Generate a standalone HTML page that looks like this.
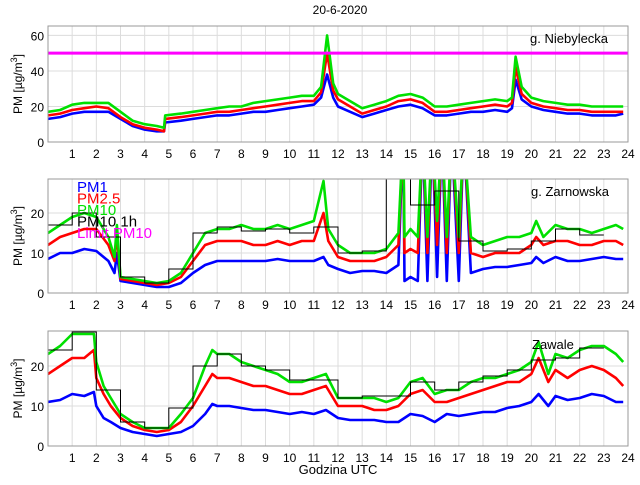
<!DOCTYPE html>
<html><head><meta charset="utf-8"><style>
body{margin:0;background:#fff;font-family:"Liberation Sans",sans-serif}
svg text{font-family:"Liberation Sans",sans-serif}
</style></head><body>
<svg id="c" width="640" height="480" xmlns="http://www.w3.org/2000/svg">
<text x="340" y="14" font-size="12" text-anchor="middle">20-6-2020</text>
<text x="338" y="474" font-size="13" text-anchor="middle">Godzina UTC</text>
</svg>
<script>
// Panel 1: g. Niebylecka
const t1=[0,0.5,1,1.5,2,2.5,3,3.5,4,4.5,4.8,4.85,5.5,6,6.5,7,7.5,8,8.5,9,9.5,10,10.5,11,11.3,11.55,11.8,12,12.5,13,13.5,14,14.5,15,15.5,16,16.5,17,17.5,18,18.5,19,19.2,19.35,19.6,20,20.5,21,21.5,22,22.5,23,23.5,23.8];
const pm10_1=[17,18,21,22,22,22,17,12,10,9,8,15,16,17,18,19,20,20,22,23,24,25,26,26,31,60,33,27,23,19,21,23,26,27,25,20,20,21,22,23,24,23,25,48,31,25,23,22,21,21,20,20,20,20];
const pm25_1=[15,16,18,19,20,19,14,10,8,7,6,13,14,15,16,17,17,18,19,20,21,22,23,23,28,50,29,24,20,16,18,20,23,24,22,17,17,18,19,20,21,20,22,42,27,22,20,19,18,18,17,17,17,17];
const pm1_1=[13,14,16,17,17,17,13,9,7,6,6,11,12,13,14,15,15,16,17,17,18,19,20,21,25,38,25,20,17,14,16,18,20,21,19,15,15,16,17,17,18,17,19,35,24,20,18,17,16,16,15,15,15,16];
// Panel 2: g. Zarnowska
const t2=[0,0.5,1,1.5,2,2.5,2.75,2.85,3,3.5,4,4.5,5,5.5,6,6.5,7,7.5,8,8.5,9,9.5,10,10.5,11,11.4,11.6,12,12.5,13,13.5,14,14.5,14.7,14.75,15,15.3,15.5,15.7,15.9,16.1,16.3,16.5,16.7,17,17.2,17.5,18,18.5,19,19.5,20,20.2,20.5,21,21.5,22,22.5,23,23.5,23.8];
const pm10_2=[15,17,19,20,19,14,9,17,4,3.5,3,2.5,3,5,10,15,16,16,17,16,16,17,16,17,18,28,16,12,10,10,10,11,15,40,14,16,14,40,14,40,18,40,14,40,14,40,14,12,13,14,14,15,18,14,17,16,16,15,16,17,16];
const pm25_2=[12,14,15,16,16,12,8,15,3.5,3,2.5,2,2.5,4,8,12,13,13,13,12,12,13,12,13,13,20,13,9,8,8,8,9,12,40,10,11,10,40,10,40,12,40,10,40,10,40,10,9,10,10,10,12,14,12,13,13,12,12,13,13,12];
const pm1_2=[8.5,10,10,11,10.5,8,5,10,3,2.5,2,1.5,1.5,2.5,5,7,8,8,8,8,8,8.5,8,8,8,9,7,6,5,5.5,5.5,5,7,40,3,4,3,40,3,40,4,40,3,40,3,40,5,6,6.5,6.5,7,7.5,9,7.5,9,8,8,8.5,9,8.5,8.5];
const hourly2=[17,20,14,4,2.5,6,15,16.5,15.5,16,15,16.5,10,10.5,50,22,25.5,13,10.5,11,13,16,14.5];
// Panel 3: Zawale
const t3=[0,0.5,1,1.5,1.9,2,2.3,2.6,3,3.5,4,4.5,5,5.5,6,6.5,6.8,7,7.5,8,8.5,9,9.5,10,10.5,11,11.5,12,12.5,13,13.5,14,14.5,15,15.5,16,16.5,17,17.5,18,18.5,19,19.5,20,20.3,20.7,21,21.5,22,22.5,23,23.5,23.8];
const pm10_3=[23,25,28,28,28,21,15,12,8,6,4.5,4.5,4.5,8,12,20,24,23,23,21,20,19,18,16,16,17,18,12,12,12,12,11,12,16,17,13,14,14,16,17,17,18,19,21,26,18,23,22,24,25,25,23,21];
const pm25_3=[18,20,22,22,24,17,13,10,7,5,4,3.5,4,6,10,15,18,17,17,16,15,15,14,13,13,14,15,10,10,10,9,9,10,13,14,11,11,12,13,14,15,16,16,18,22,16,19,17,19,20,19,17,15];
const pm1_3=[11,11.5,13,12.5,13.5,10,7,6,4.5,3.5,3,2.5,3,3.5,5,8,10.5,10,10,9.5,9,9,8.5,8,8.5,8,9,7,6.5,6.5,6.5,6,6,8,7.5,6,8,7.5,8,8.5,8.5,9.5,10,11,13,10,12.5,11.5,12,13,12.5,11,11];
const hourly3=[24,28.5,14,6,4.5,9.5,20,23,20,19,16.5,16.5,12,12.5,12.5,16,14,16,17.5,19,21.5,22,24.5];
const limit=[50];
const xTicks=[1,2,3,4,5,6,7,8,9,10,11,12,13,14,15,16,17,18,19,20,21,22,23,24];

const NS="http://www.w3.org/2000/svg";
const svg=document.getElementById('c');
function el(tag,attrs,parent){const e=document.createElementNS(NS,tag);for(const k in attrs)e.setAttribute(k,attrs[k]);(parent||svg).appendChild(e);return e;}
const X0=48,X1=628;
function xs(h){return X0+(h/24)*(X1-X0);}
const panels=[
 {top:26,bot:142,ymax:65.3,yt:[0,20,40,60],t:t1,s:[pm1_1,pm25_1,pm10_1],h:null,label:'g. Niebylecka',lx:530,ly:43},
 {top:179,bot:293,ymax:28.5,yt:[0,10,20],t:t2,s:[pm1_2,pm25_2,pm10_2],h:hourly2,label:'g. Zarnowska',lx:531,ly:196},
 {top:331,bot:446,ymax:28.75,yt:[0,10,20],t:t3,s:[pm1_3,pm25_3,pm10_3],h:hourly3,label:'Zawale',lx:532,ly:349}
];
const cols=['#0000ff','#ff0000','#00e000'];
panels.forEach((p,i)=>{
 const ys=v=>p.bot-(v/p.ymax)*(p.bot-p.top);
 const g=el('g',{});
 
 
 const cp=el('clipPath',{id:'cp'+i},g);
 el('rect',{x:X0,y:p.top,width:X1-X0,height:p.bot-p.top},cp);
 xTicks.forEach(h=>{
  const l=el('line',{x1:xs(h),x2:xs(h),y1:p.top,y2:p.bot,stroke:'#dcdcdc','stroke-width':1},g);
  
  
  const tx=el('text',{x:xs(h),y:p.bot+16,'font-size':12,'text-anchor':'middle'},g);
  tx.textContent=h;
  
  
 });
 p.yt.forEach(v=>{
  if(v>0){const l=el('line',{x1:X0,x2:X1,y1:ys(v),y2:ys(v),stroke:'#dcdcdc','stroke-width':1},g);
  
  }
  const tx=el('text',{x:X0-4,y:ys(v)+5,'font-size':12,'text-anchor':'end'},g);
  tx.textContent=v;
  
  
 });
 const yl=el('text',{transform:`translate(22,${(p.top+p.bot)/2}) rotate(-90)`,'font-size':12,'text-anchor':'middle'},g);
 yl.innerHTML='PM [µg/m<tspan dy="-5" font-size="9">3</tspan><tspan dy="5">]</tspan>';
 
 
 const pg=el('g',{'clip-path':`url(#cp${i})`},g);
 const names=['pm1','pm25','pm10'];
 [0,1,2].forEach(k=>{
  const d=p.t.map((h,j)=>(j?'L':'M')+xs(h).toFixed(1)+','+ys(p.s[k][j]).toFixed(1)).join('');
  const pa=el('path',{d:d,fill:'none',stroke:cols[k],'stroke-width':2.6,'stroke-linejoin':'round'},pg);
  
  
 });
 if(p.h){
  let d='';
  p.h.forEach((v,j)=>{d+=(j?'L':'M')+xs(j).toFixed(1)+','+ys(v).toFixed(1)+'L'+xs(j+1).toFixed(1)+','+ys(v).toFixed(1);});
  const pa=el('path',{d:d,fill:'none',stroke:'#000','stroke-width':1},pg);
  
  
 }
 const lm=el('line',{x1:X0,x2:X1,y1:ys(limit[0]),y2:ys(limit[0]),stroke:'#ff00ff','stroke-width':3},pg);
 
 
 const fr=el('rect',{x:X0,y:p.top,width:X1-X0,height:p.bot-p.top,fill:'none',stroke:'#999','stroke-width':1},g);
 
 
 const st=el('text',{x:p.lx,y:p.ly,'font-size':13},g);
 st.textContent=p.label;
 
 
});
const leg=[['PM1','#0000ff'],['PM2.5','#ff0000'],['PM10','#00e000'],['PM10 1h','#000'],['Limit PM10','#ff00ff']];
leg.forEach((e,i)=>{
 const tx=el('text',{x:77,y:192+i*11.5,'font-size':15,fill:e[1]});
 tx.textContent=e[0];
 
 
});
</script>
</body></html>
